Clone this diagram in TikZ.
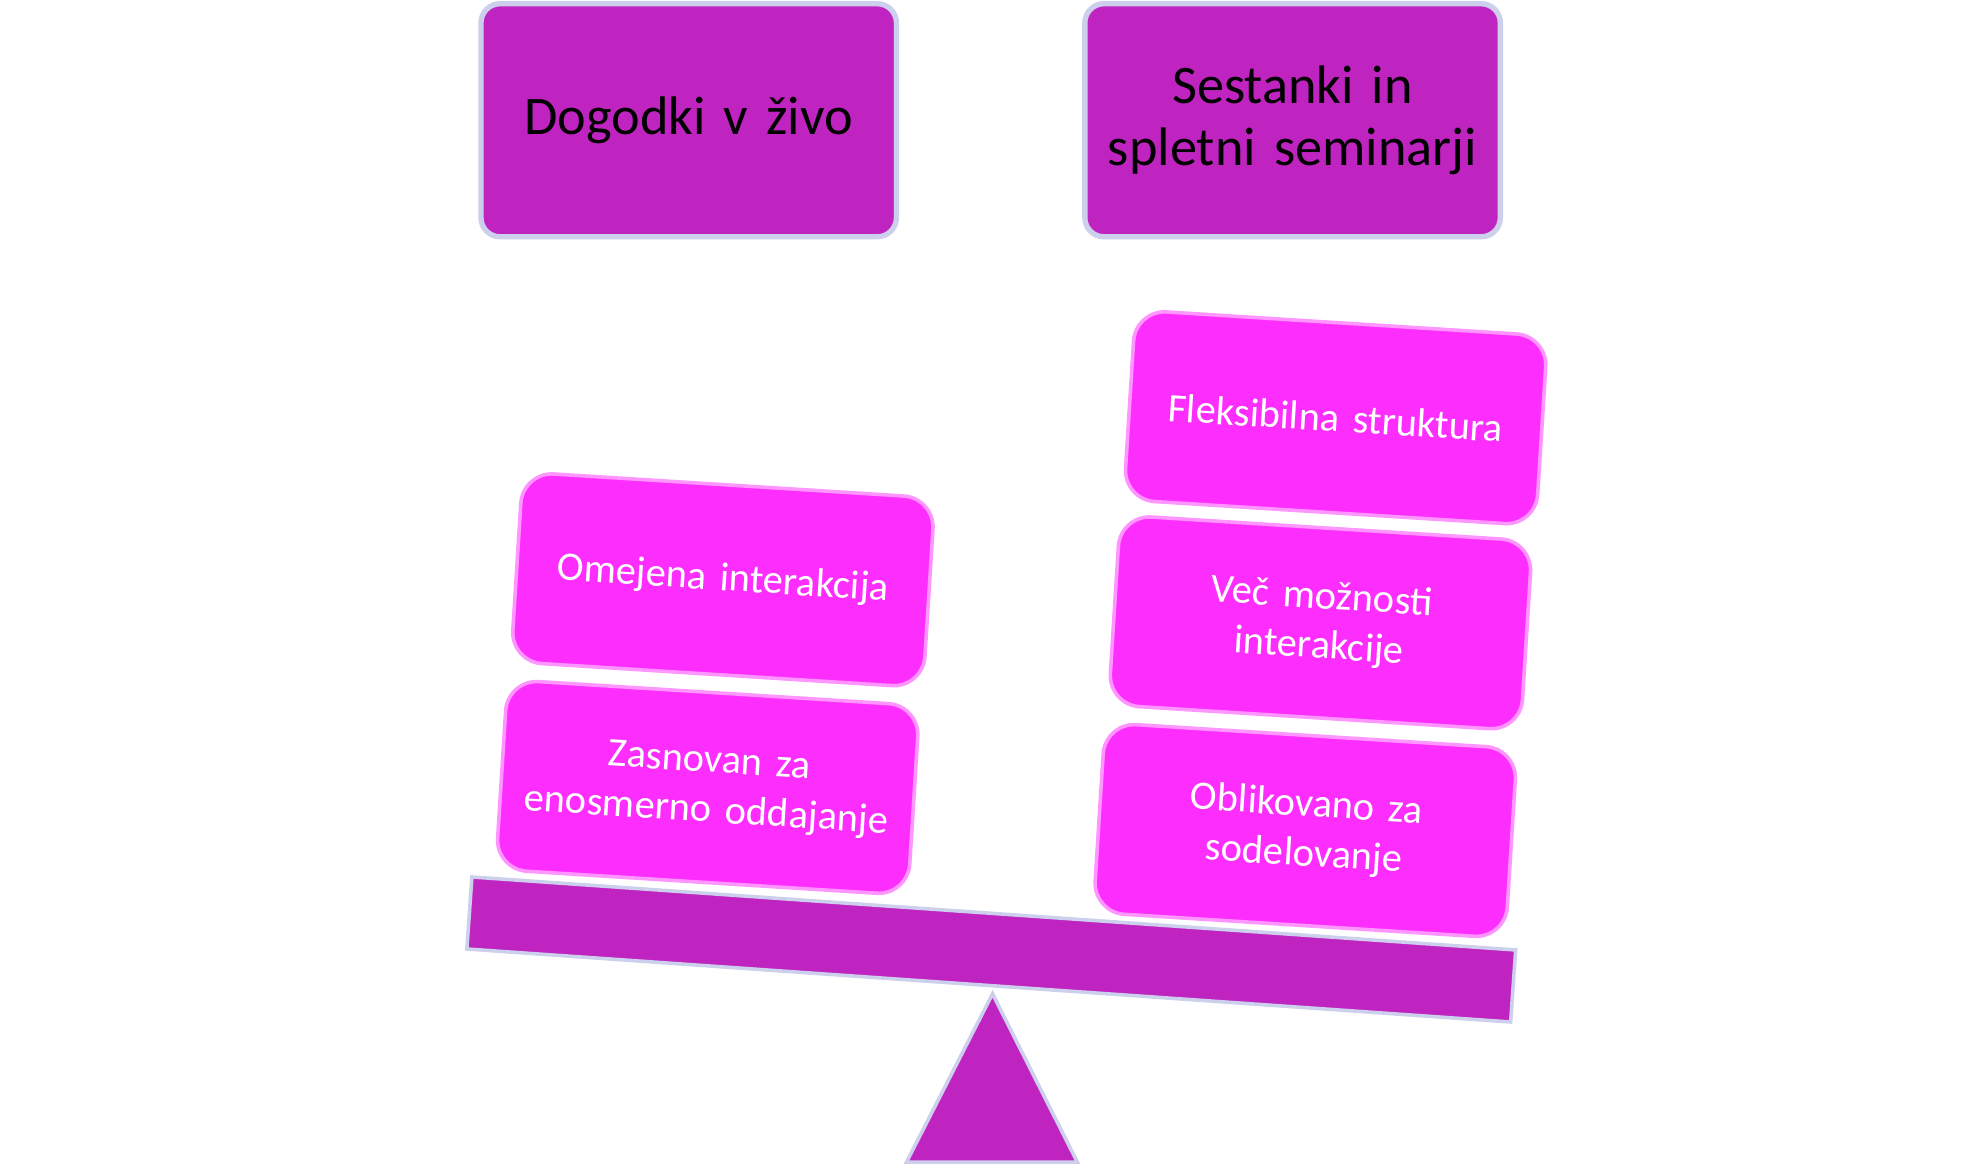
\documentclass[tikz,border=0pt]{standalone}
\usepackage{fontspec}
\setmainfont[WordSpace=0.85]{Carlito}
\usetikzlibrary{shapes,positioning}
\definecolor{plumdark}{RGB}{192,36,192}
\definecolor{plumlight}{RGB}{253,46,253}
\definecolor{rimgray}{RGB}{204,208,236}
\definecolor{rimpink}{RGB}{255,150,255}
\tikzset{
  basic/.style = {rectangle, align=center, inner sep=0pt},
  head/.style  = {basic, draw=rimgray, line width=1.2pt, fill=plumdark, rounded corners=4.3pt,
                  minimum width=3.28cm, minimum height=1.84cm, text width=3.1cm,
                  font=\fontsize{12.2}{13.8}\selectfont, text=black},
  item/.style  = {basic, draw=rimpink, line width=0.8pt, fill=plumlight, rounded corners=7pt,
                  minimum width=3.26cm, minimum height=1.5cm, text width=3.1cm,
                  font=\fontsize{9.1}{11.2}\selectfont, text=white, rotate=-3.6},
  beam/.style  = {rectangle, draw=rimgray, line width=0.8pt, fill=plumdark, inner sep=0pt,
                  minimum width=8.26cm, minimum height=0.57cm, rotate=-4}
}

\begin{document}
\begin{tikzpicture}[x=0.01cm, y=-0.01cm]
\useasboundingbox[fill=white] (0,0) rectangle (1564,920.24);

% the two sides of the scale
\node[head] (live) at (544,95) {Dogodki v živo};
\node[head] (web) at (1021,95) {Sestanki in\\spletni seminarji};

% fulcrum and beam
\coordinate (tip) at (784,785);
\draw[draw=rimgray, line width=0.8pt, fill=plumdark] (tip) -- (851,918) -- (716,918) -- cycle;
\node[beam] (bar) at (783,750) {};

% left pan, stacked boxes
\node[item] (l1) at (571,458) {Omejena interakcija};
\node[item] (l2) at (559,622) {Zasnovan za\\enosmerno oddajanje};

% right pan, stacked boxes
\node[item] (r1) at (1055,330) {Fleksibilna struktura};
\node[item] (r2) at (1043,492) {Več možnosti\\interakcije};
\node[item] (r3) at (1031,656) {Oblikovano za\\sodelovanje};
\end{tikzpicture}
\end{document}
